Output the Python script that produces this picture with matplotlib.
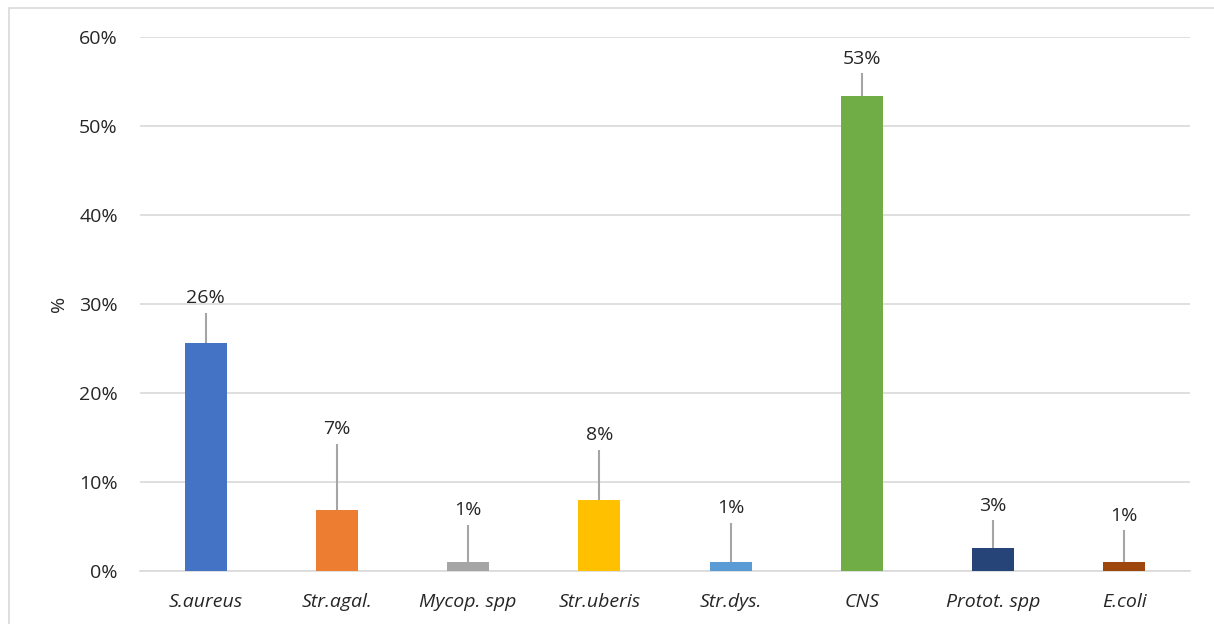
import matplotlib
matplotlib.use("Agg")
import matplotlib.pyplot as plt
from matplotlib.patches import Rectangle
from matplotlib.ticker import FuncFormatter
import numpy as np

categories = ["S.aureus", "Str.agal.", "Mycop. spp", "Str.uberis", "Str.dys.", "CNS", "Protot. spp", "E.coli"]
values = [25.6, 6.9, 1.0, 8.0, 1.0, 53.4, 2.6, 1.0]
errors = [3.4, 7.4, 4.2, 5.6, 4.4, 2.5, 3.1, 3.6]
labels = ["26%", "7%", "1%", "8%", "1%", "53%", "3%", "1%"]
colors = ["#4472C4", "#ED7D31", "#A5A5A5", "#FFC000", "#5B9BD5", "#70AD47", "#264478", "#9E480E"]
yticks = [0, 10, 20, 30, 40, 50, 60]

plt.rcParams['font.family'] = ['Open Sans', 'DejaVu Sans']
FS = 14

fig = plt.figure(figsize=(12.14, 6.24), dpi=100)
fig.patches.append(Rectangle((9/1214, -0.01), 1.02, 1 - 8/624 + 0.01, transform=fig.transFigure,
                             fill=False, edgecolor="#D9D9D9", linewidth=1.2))
ax = fig.add_axes([140/1214, 1 - 571/624, (1190-140)/1214, (571-37)/624])

x = np.arange(len(categories))
ax.bar(x, values, width=0.32, color=colors, zorder=3)
ax.errorbar(x, values, yerr=[np.zeros(len(values)), errors], fmt='none',
            ecolor="#A5A5A5", elinewidth=1.5, capsize=0, zorder=4)
for xi, v, e, lab in zip(x, values, errors, labels):
    ax.annotate(lab, (xi, v + e), xytext=(0, 4), textcoords='offset points',
                ha='center', va='bottom', fontsize=FS, color="#262626")

ax.set_xlim(-0.5, len(categories) - 0.5)
ax.set_ylim(0, 60)
ax.set_yticks(yticks)
ax.yaxis.set_major_formatter(FuncFormatter(lambda v, p: f"{int(v)}%"))
ax.set_xticks(x)
ax.set_xticklabels(categories, fontstyle='italic')
ax.tick_params(axis='both', length=0, labelsize=FS, colors="#262626")
ax.tick_params(axis='x', pad=16)
ax.tick_params(axis='y', pad=16)
ax.grid(axis='y', color="#D9D9D9", linewidth=1.2, zorder=0)
for s in ["top", "right", "left"]:
    ax.spines[s].set_visible(False)
ax.spines["bottom"].set_color("#D9D9D9")
ax.spines["bottom"].set_linewidth(1.2)
ax.set_ylabel("%", fontsize=FS, color="#262626", labelpad=8)

fig.savefig("out.png", dpi=100)
